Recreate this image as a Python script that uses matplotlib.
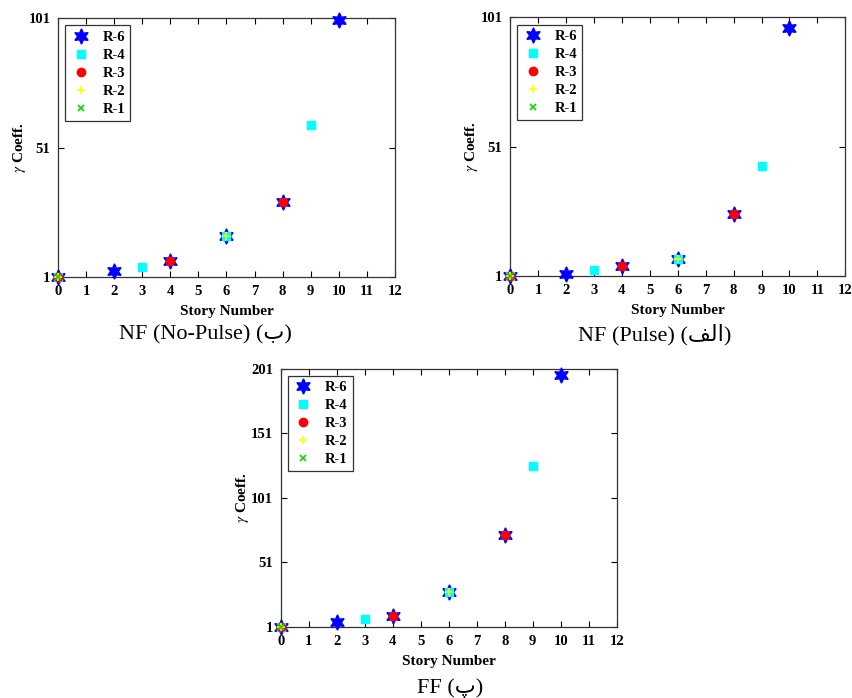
import numpy as np
import matplotlib
matplotlib.use("Agg")
import matplotlib.pyplot as plt

plt.rcParams['font.family'] = ['Liberation Serif', 'DejaVu Serif']
plt.rcParams['mathtext.fontset'] = 'stix'

# stories where each R-series has a point
stories_r6 = [0, 2, 4, 6, 8, 10]
stories_r4 = [0, 3, 6, 9]
stories_r3 = [0, 4, 8]
stories_r2 = [0, 6]
stories_r1 = [0]

# NF (No-Pulse)
nfnp_r6 = [1, 3.3, 7.2, 16.9, 30.0, 100.4]
nfnp_r4 = [1, 4.9, 16.9, 59.9]
nfnp_r3 = [1, 7.2, 30.0]
nfnp_r2 = [1, 16.9]
nfnp_r1 = [1]

# NF (Pulse)
nfp_r6 = [1, 1.8, 4.9, 7.5, 24.9, 97.1]
nfp_r4 = [1, 3.1, 7.5, 43.4]
nfp_r3 = [1, 4.9, 24.9]
nfp_r2 = [1, 7.5]
nfp_r1 = [1]

# FF
ff_r6 = [1, 4.9, 9.5, 27.6, 72.0, 195.8]
ff_r4 = [1, 6.9, 27.6, 125.6]
ff_r3 = [1, 9.5, 72.0]
ff_r2 = [1, 27.6]
ff_r1 = [1]

x_ticks = list(range(0, 13))
y_ticks_nf = [1, 51, 101]
y_ticks_ff = [1, 51, 101, 151, 201]

# Arabic letters written in presentation forms (visual order) since matplotlib has no shaping
captions = ["NF (No-Pulse) (ب)", "NF (Pulse) (\ufed2\ufedf\ufe8d)", "FF (پ)"]


def draw_panel(ax, r6, r4, r3, r2, r1, yticks):
    ax.plot(stories_r6, r6, ls='none', marker=(6, 1, 0), ms=11, color='blue',
            mec='blue', label='R-6', clip_on=False, zorder=3)
    ax.plot(stories_r4, r4, ls='none', marker='s', ms=6, color='cyan',
            mec='cyan', label='R-4', clip_on=False, zorder=4)
    ax.plot(stories_r3, r3, ls='none', marker='o', ms=6, color='red',
            mec='red', label='R-3', clip_on=False, zorder=5)
    ax.plot(stories_r2, r2, ls='none', marker='+', ms=6, mew=1.2, color='yellow',
            label='R-2', clip_on=False, zorder=6)
    ax.plot(stories_r1, r1, ls='none', marker='x', ms=4, mew=1.2, color='#00dd00',
            label='R-1', clip_on=False, zorder=7)
    ax.set_xlim(0, 12)
    ax.set_ylim(yticks[0], yticks[-1])
    ax.set_xticks(x_ticks)
    ax.set_yticks(yticks)
    ax.tick_params(direction='in', top=True, right=True, length=4, width=0.8,
                   labelsize=10.5)
    ax.tick_params(axis='x', pad=6)
    ax.tick_params(axis='y', pad=5.5)
    for lab in ax.get_xticklabels() + ax.get_yticklabels():
        lab.set_fontweight('bold')
    for s in ax.spines.values():
        s.set_linewidth(0.9)
        s.set_color('#333333')
    ax.set_xlabel('Story Number', fontsize=11, fontweight='bold', labelpad=5)
    ax.set_ylabel(r'$\gamma$ Coeff.', fontsize=11, fontweight='bold', labelpad=0)
    leg = ax.legend(loc='upper left', fancybox=False, edgecolor='#333333',
                    prop={'weight': 'bold', 'size': 10.5}, borderpad=0.35,
                    labelspacing=0.33, handletextpad=0.8, handlelength=1.4,
                    borderaxespad=0.5, framealpha=1)
    leg.get_frame().set_linewidth(0.9)


fig = plt.figure(figsize=(8.53, 6.98), dpi=100)
ax1 = fig.add_axes([0.068, 0.603, 0.395, 0.371])
ax2 = fig.add_axes([0.598, 0.605, 0.393, 0.370])
ax3 = fig.add_axes([0.329, 0.102, 0.394, 0.370])

draw_panel(ax1, nfnp_r6, nfnp_r4, nfnp_r3, nfnp_r2, nfnp_r1, y_ticks_nf)
draw_panel(ax2, nfp_r6, nfp_r4, nfp_r3, nfp_r2, nfp_r1, y_ticks_nf)
draw_panel(ax3, ff_r6, ff_r4, ff_r3, ff_r2, ff_r1, y_ticks_ff)

cap_family = ['Liberation Serif', 'DejaVu Sans']
fig.text(205 / 853, 1 - 335 / 698, captions[0], ha='center', va='center',
         fontsize=16, family=cap_family)
fig.text(655 / 853, 1 - 335 / 698, captions[1], ha='center', va='center',
         fontsize=16, family=cap_family)
fig.text(450 / 853, 1 - 688 / 698, captions[2], ha='center', va='center',
         fontsize=16, family=cap_family)

fig.savefig('out.png', dpi=100)
